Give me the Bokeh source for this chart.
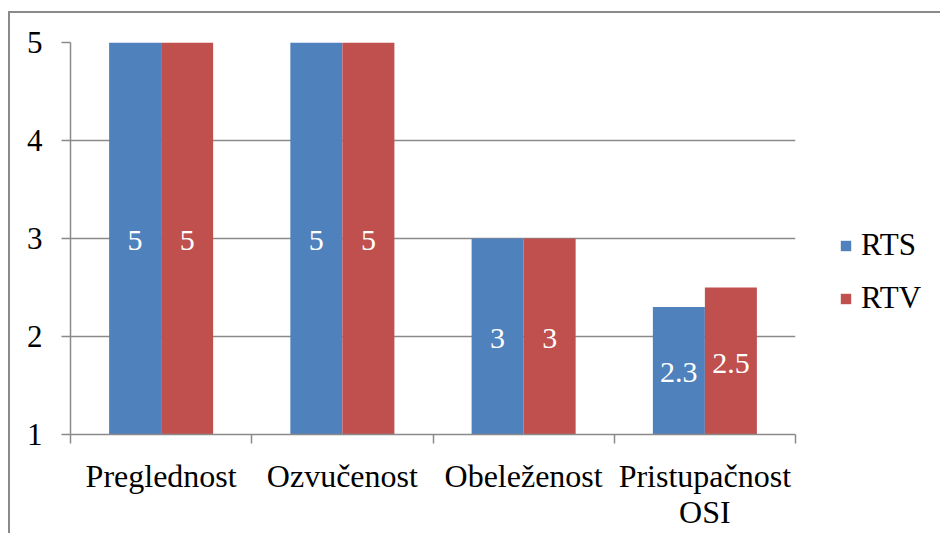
from bokeh.plotting import figure
from bokeh.models import (ColumnDataSource, Range1d, LinearAxis, FixedTicker, Legend, LegendItem)
from bokeh.transform import dodge
from bokeh.core.properties import value
from bokeh.embed import file_html
from bokeh.resources import INLINE

categories = ["Preglednost", "Ozvučenost", "Obeleženost", "Pristupačnost\nOSI"]
rts = [5, 5, 3, 2.3]
rtv = [5, 5, 3, 2.5]
rts_labels = ["5", "5", "3", "2.3"]
rtv_labels = ["5", "5", "3", "2.5"]
y_ticks = [1, 2, 3, 4, 5]
series_names = ["RTS", "RTV"]

BLUE = "#4F81BD"
RED = "#C0504D"
GRAY = "#8A8A8A"
FONT = "'Liberation Serif'"
y_min, y_max = y_ticks[0], y_ticks[-1]
n = len(categories)
centers = [i + 0.5 for i in range(n)]
bounds = list(range(n + 1))

src = ColumnDataSource(dict(
    pos=centers, rts=rts, rtv=rtv,
    rts_mid=[(y_min + v) / 2 for v in rts], rtv_mid=[(y_min + v) / 2 for v in rtv],
    rts_lab=rts_labels, rtv_lab=rtv_labels,
))

p = figure(x_range=Range1d(0, n), y_range=Range1d(y_min, y_max),
           width=924, height=520, frame_width=725, frame_height=392,
           min_border_left=60, min_border_right=139, min_border_top=29, min_border_bottom=99,
           output_backend="svg", toolbar_location=None, x_axis_location=None, y_axis_location=None,
           margin=(11, 0, 0, 8),
           styles={"border-left": f"2px solid {GRAY}", "border-top": f"2px solid {GRAY}"})
p.outline_line_color = None
p.xgrid.grid_line_color = None
p.ygrid.grid_line_color = GRAY
p.ygrid.grid_line_width = 1.5
p.ygrid.ticker = FixedTicker(ticks=y_ticks)

bw = 0.287
off = bw / 2
r1 = p.vbar(x=dodge("pos", -off), top="rts", bottom=y_min, width=bw, source=src,
            fill_color=BLUE, line_color=None)
r2 = p.vbar(x=dodge("pos", off), top="rtv", bottom=y_min, width=bw, source=src,
            fill_color=RED, line_color=None)

for col_x, col_y, col_t in [(-off, "rts_mid", "rts_lab"), (off, "rtv_mid", "rtv_lab")]:
    p.text(x=dodge("pos", col_x), y=col_y, text=col_t, source=src,
           text_color="white", text_font=value(FONT), text_font_size="30px",
           text_align="center", text_baseline="middle", y_offset=2)

# y axis
yax = LinearAxis(ticker=FixedTicker(ticks=y_ticks), major_tick_out=9, major_tick_in=0,
                 minor_tick_line_color=None, axis_line_color=GRAY, axis_line_width=1.5,
                 major_tick_line_color=GRAY, major_tick_line_width=1.5,
                 major_label_standoff=19, major_label_text_font=FONT,
                 major_label_text_font_size="31px", major_label_text_color="black")
p.add_layout(yax, "left")

# x axis: labels at category centres, tick marks at category boundaries
xax = LinearAxis(ticker=FixedTicker(ticks=centers, minor_ticks=bounds),
                 major_label_overrides={c: lab for c, lab in zip(centers, categories)},
                 major_tick_out=0, major_tick_in=0, major_tick_line_color=None,
                 minor_tick_out=9, minor_tick_in=0, minor_tick_line_color=GRAY,
                 minor_tick_line_width=1.5, axis_line_color=GRAY, axis_line_width=1.5,
                 major_label_standoff=14, major_label_text_font=FONT,
                 major_label_text_line_height=1.0,
                 major_label_text_font_size="32px", major_label_text_color="black")
p.add_layout(xax, "below")

legend = Legend(items=[LegendItem(label=series_names[0], renderers=[r1]),
                       LegendItem(label=series_names[1], renderers=[r2])],
                location=(44, 118), margin=0, padding=0, spacing=17,
                glyph_width=13, glyph_height=13, label_standoff=9, label_height=30,
                label_text_font=FONT, label_text_font_size="31px", label_text_color="black",
                border_line_color=None, background_fill_alpha=0)
p.add_layout(legend, "right")

open("out.html", "w").write(file_html(p, INLINE))
